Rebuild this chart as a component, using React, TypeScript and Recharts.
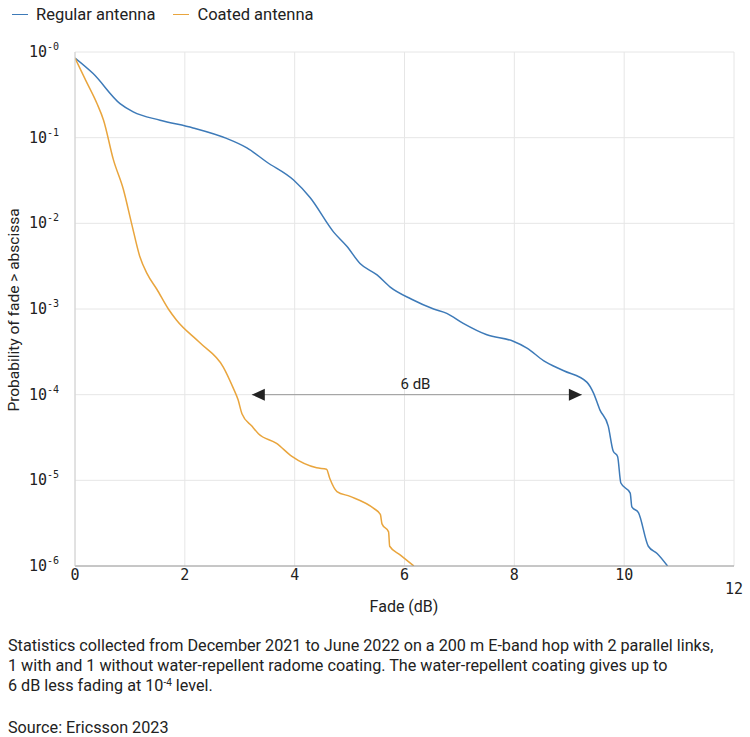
import { LineChart, Line, XAxis, YAxis, CartesianGrid, ReferenceLine, ReferenceDot, Label } from 'recharts';

// Regular antenna (no coating) - fade in dB vs probability of exceeding it
const regularFade = [0, 0.33, 0.82, 1.06, 1.55, 2.15, 2.76, 3.13, 3.49, 3.98, 4.28, 4.71, 4.95, 5.19, 5.5, 5.74, 6.13, 6.53, 6.77, 7.07, 7.5, 7.98, 8.23, 8.53, 8.9, 9.32, 9.44, 9.56, 9.71, 9.8, 9.88, 9.94, 10.11, 10.14, 10.26, 10.44, 10.6, 10.79];
const regularProb = [8.5e-1, 5.6e-1, 2.5e-1, 2.0e-1, 1.6e-1, 1.3e-1, 9.8e-2, 7.6e-2, 5.2e-2, 3.2e-2, 2.0e-2, 7.9e-3, 5.4e-3, 3.4e-3, 2.5e-3, 1.8e-3, 1.3e-3, 1.0e-3, 8.9e-4, 6.8e-4, 5.0e-4, 4.2e-4, 3.5e-4, 2.5e-4, 1.9e-4, 1.4e-4, 1.05e-4, 6.6e-5, 4.3e-5, 2.2e-5, 1.9e-5, 9.3e-6, 7.1e-6, 4.9e-6, 4.2e-6, 1.7e-6, 1.4e-6, 1.0e-6];

// Water-repellent coated antenna
const coatedFade = [0, 0.2, 0.4, 0.52, 0.7, 0.88, 1.03, 1.18, 1.31, 1.49, 1.7, 1.85, 2.28, 2.7, 2.88, 2.97, 3.04, 3.22, 3.34, 3.67, 3.95, 4.4, 4.58, 4.64, 4.77, 5.01, 5.44, 5.56, 5.59, 5.71, 5.73, 5.92, 6.17];
const coatedProb = [8.5e-1, 4.6e-1, 2.5e-1, 1.6e-1, 5.5e-2, 2.5e-2, 1.0e-2, 4.1e-3, 2.6e-3, 1.7e-3, 1.0e-3, 7.4e-4, 4.0e-4, 2.1e-4, 1.2e-4, 8.7e-5, 6.0e-5, 4.3e-5, 3.5e-5, 2.7e-5, 1.9e-5, 1.4e-5, 1.35e-5, 1.05e-5, 7.4e-6, 6.5e-6, 4.7e-6, 4.0e-6, 3.1e-6, 2.5e-6, 1.7e-6, 1.35e-6, 1.0e-6];

const xTicks = [0, 2, 4, 6, 8, 10, 12];
const yTicks = [1, 1e-1, 1e-2, 1e-3, 1e-4, 1e-5, 1e-6];

// 6 dB annotation at the 10^-4 level
const arrowLevel = 1e-4;
const arrowFrom = 3.22;
const arrowTo = 9.23;
const arrowLabelX = 6.2;

const BLUE = '#3d7ab8';
const ORANGE = '#e9a53d';
const TEXT_FONT = 'Roboto, "Noto Sans", sans-serif';
const MONO_FONT = '"DejaVu Sans Mono", monospace';

const regularData = regularFade.map((x, i) => ({ x, p: regularProb[i] }));
const coatedData = coatedFade.map((x, i) => ({ x, p: coatedProb[i] }));

const YTick = ({ x, y, payload }: any) => {
  const exp = Math.round(Math.log10(payload.value));
  return (
    <text x={x} y={y} textAnchor="end" fontFamily={MONO_FONT} fill="#222" dominantBaseline="central">
      <tspan fontSize={15}>10</tspan>
      <tspan fontSize={10} dy={-6}>{`-${Math.abs(exp)}`}</tspan>
    </text>
  );
};

const XTick = ({ x, y, payload }: any) => (
  <text x={x} y={payload.value === 12 ? y + 20 : y + 6} textAnchor="middle" fontFamily={MONO_FONT} fontSize={15} fill="#222">
    {payload.value}
  </text>
);

const LeftArrow = ({ cx, cy }: any) => <path d={`M${cx},${cy} L${cx + 13},${cy - 6} L${cx + 13},${cy + 6} Z`} fill="#222" />;
const RightArrow = ({ cx, cy }: any) => <path d={`M${cx},${cy} L${cx - 13},${cy - 6} L${cx - 13},${cy + 6} Z`} fill="#222" />;
const ArrowText = ({ cx, cy }: any) => (
  <text x={cx} y={cy - 6} textAnchor="middle" fontFamily={TEXT_FONT} fontSize={15} fill="#222">6 dB</text>
);

export default function App() {
  return (
    <div style={{ position: 'absolute', left: 0, top: 0, width: 750, height: 737, background: '#fff', fontFamily: TEXT_FONT, color: '#222' }}>
      {/* legend */}
      <div style={{ position: 'absolute', left: 12, top: 5, display: 'flex', alignItems: 'center', fontSize: 16.5 }}>
        <span style={{ width: 16, height: 1.5, background: BLUE, display: 'inline-block', marginRight: 8 }} />
        <span style={{ marginRight: 18 }}>Regular antenna</span>
        <span style={{ width: 16, height: 1.5, background: ORANGE, display: 'inline-block', marginRight: 8 }} />
        <span>Coated antenna</span>
      </div>

      <div style={{ position: 'absolute', left: 0, top: 0 }}>
        <LineChart width={750} height={620} margin={{ top: 52, right: 16, left: 0, bottom: 0 }}>
          <CartesianGrid stroke="#e6e6e6" />
          <XAxis
            type="number"
            dataKey="x"
            domain={[0, 12]}
            ticks={xTicks}
            tickLine={false}
            axisLine={{ stroke: '#9a9a9a' }}
            tick={<XTick />}
            height={54}
            allowDataOverflow
          >
            <Label
              content={() => (
                <text x={404} y={612} textAnchor="middle" fontFamily={TEXT_FONT} fontSize={16} fill="#222">Fade (dB)</text>
              )}
            />
          </XAxis>
          <YAxis
            type="number"
            dataKey="p"
            scale="log"
            domain={[1e-6, 1]}
            ticks={yTicks}
            tickLine={false}
            axisLine={{ stroke: '#d0d0d0' }}
            tick={<YTick />}
            width={75}
            tickMargin={10}
            allowDataOverflow
          >
            <Label
              content={() => (
                <text transform="translate(19,310) rotate(-90)" textAnchor="middle" fontFamily={TEXT_FONT} fontSize={15.5} fill="#222">
                  Probability of fade &gt; abscissa
                </text>
              )}
            />
          </YAxis>
          <ReferenceLine segment={[{ x: arrowFrom, y: arrowLevel }, { x: arrowTo, y: arrowLevel }]} stroke="#9a9a9a" />
          <ReferenceDot x={arrowFrom} y={arrowLevel} shape={<LeftArrow />} />
          <ReferenceDot x={arrowTo} y={arrowLevel} shape={<RightArrow />} />
          <ReferenceDot x={arrowLabelX} y={arrowLevel} shape={<ArrowText />} />
          <Line data={regularData} type="monotone" dataKey="p" stroke={BLUE} strokeWidth={1.5} dot={false} isAnimationActive={false} name="Regular antenna" />
          <Line data={coatedData} type="monotone" dataKey="p" stroke={ORANGE} strokeWidth={1.5} dot={false} isAnimationActive={false} name="Coated antenna" />
        </LineChart>
      </div>

      {/* caption */}
      <div style={{ position: 'absolute', left: 8, top: 636, fontSize: 16.2, lineHeight: '20px', whiteSpace: 'nowrap' }}>
        <div>Statistics collected from December 2021 to June 2022 on a 200 m E-band hop with 2 parallel links,</div>
        <div>1 with and 1 without water-repellent radome coating. The water-repellent coating gives up to</div>
        <div>
          6 dB less fading at 10<sup style={{ fontSize: 10, verticalAlign: 'top', lineHeight: '14px' }}>-4</sup> level.
        </div>
        <div style={{ marginTop: 22 }}>Source: Ericsson 2023</div>
      </div>
    </div>
  );
}
